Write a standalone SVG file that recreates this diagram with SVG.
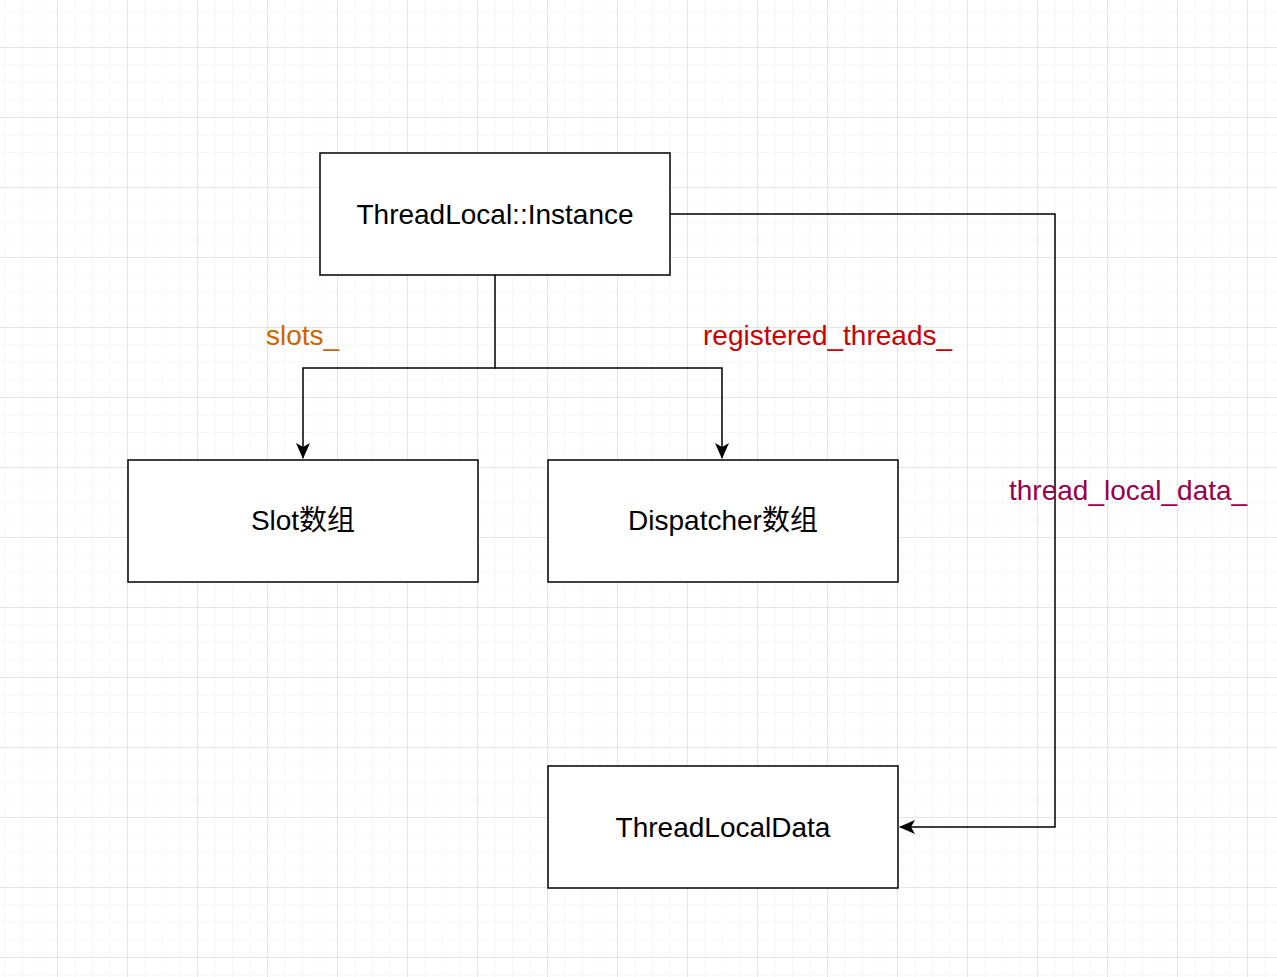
<svg xmlns="http://www.w3.org/2000/svg" width="1277" height="977" viewBox="0 0 1277 977">
<defs>
<pattern id="minor" x="-13" y="-23" width="17.5" height="17.5" patternUnits="userSpaceOnUse">
<path d="M0 0H17.5M0 0V17.5" fill="none" stroke="#efefef" stroke-width="1"/>
</pattern>
<pattern id="major" x="-13" y="-23" width="70" height="70" patternUnits="userSpaceOnUse">
<path d="M0 0H70M0 0V70" fill="none" stroke="#d4d4d4" stroke-width="1"/>
</pattern>
<marker id="arr" viewBox="0 0 16 14" refX="15" refY="7" markerWidth="16" markerHeight="14" markerUnits="userSpaceOnUse" orient="auto">
<path d="M0 0L16 7L0 14L4 7Z" fill="#000"/>
</marker>
</defs>
<style>
.box{fill:#fff;stroke:#000;stroke-width:1.5}
.t{font-family:"Liberation Sans",Arial,"Noto Sans CJK SC",sans-serif;font-size:28px;fill:#000;text-anchor:middle}
.lbl{font-family:"Liberation Sans",Arial,sans-serif;font-size:28px}
.edge{fill:none;stroke:#000;stroke-width:1.5}
</style>
<rect width="1277" height="977" fill="#fff"/>
<rect width="1277" height="977" fill="url(#minor)"/>
<rect width="1277" height="977" fill="url(#major)"/>
<g id="connectors">
<path class="edge" d="M495 275V368H303V458" marker-end="url(#arr)"/>
<path class="edge" d="M495 368H722V458" marker-end="url(#arr)"/>
<path class="edge" d="M670 214H1055V827H900" marker-end="url(#arr)"/>
<text class="lbl" x="266" y="345" fill="#cc6600">slots_</text>
<text class="lbl" x="703" y="345" fill="#cc0000">registered_threads_</text>
<text class="lbl" x="1009" y="500" fill="#99004d">thread_local_data_</text>
</g>
<g id="instance">
<rect class="box" x="320" y="153" width="350" height="122"/>
<text class="t" x="495" y="224">ThreadLocal::Instance</text>
</g>
<g id="slots">
<rect class="box" x="128" y="460" width="350" height="122"/>
<text class="t" x="303" y="530">Slot数组</text>
</g>
<g id="dispatchers">
<rect class="box" x="548" y="460" width="350" height="122"/>
<text class="t" x="723" y="530">Dispatcher数组</text>
</g>
<g id="threadlocaldata">
<rect class="box" x="548" y="766" width="350" height="122"/>
<text class="t" x="723" y="837">ThreadLocalData</text>
</g>
</svg>
